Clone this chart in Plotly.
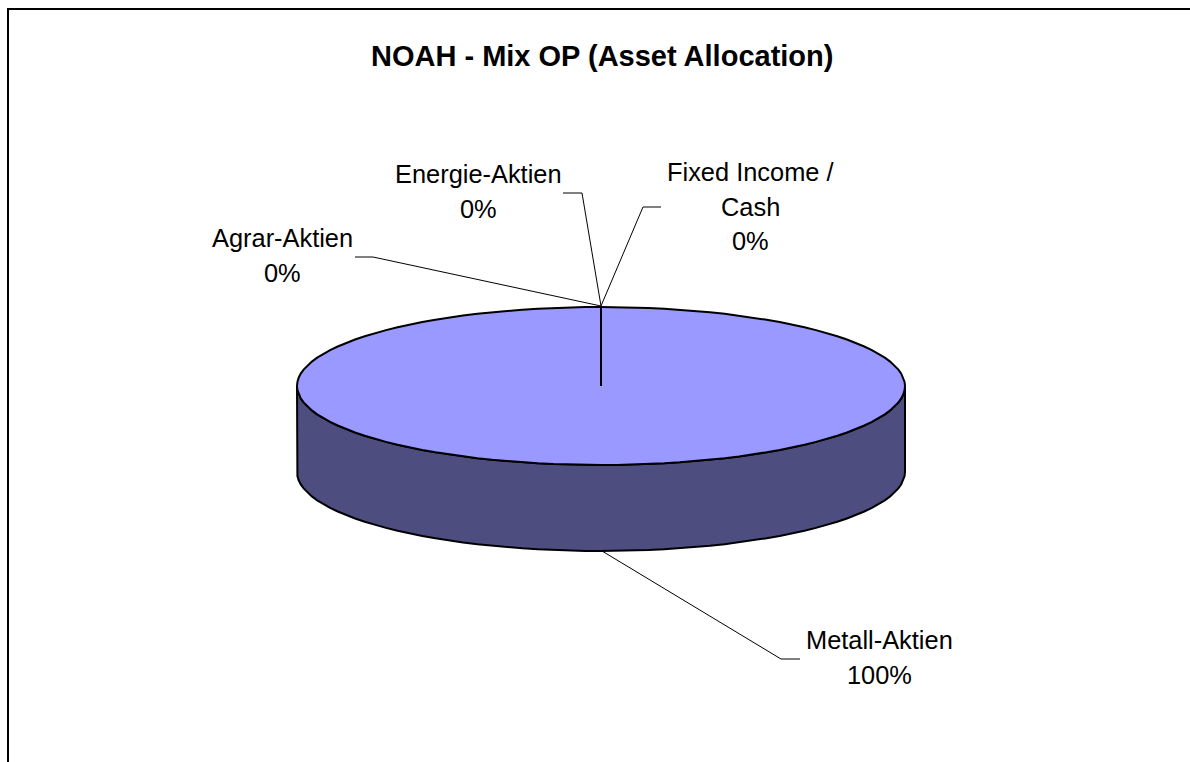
import numpy as np
import plotly.graph_objects as go

categories = ["Metall-Aktien", "Agrar-Aktien", "Energie-Aktien", "Fixed Income /<br>Cash"]
shares = [100, 0, 0, 0]
title_text = "NOAH - Mix OP (Asset Allocation)"

W, H = 1190, 762
CX, CY, RX, RY, DEPTH = 601, 386, 304, 79, 86
TOP = "#9999FF"
SIDE = "#4D4D80"
FONT = "Liberation Sans, Arial, sans-serif"

# ellipse sampled coarsely like the source's rasterised outline
t = np.radians(np.arange(0, 360.01, 3))
ex, ey = CX + RX * np.sin(t), CY - RY * np.cos(t)

front = np.radians(np.arange(90, 270.01, 3))
fx, fy = CX + RX * np.sin(front), CY - RY * np.cos(front)
side_x = np.concatenate([fx, fx[::-1], fx[:1]])
side_y = np.concatenate([fy, fy[::-1] + DEPTH, fy[:1]])

fig = go.Figure()
line = dict(color="black", width=2)
fig.add_trace(go.Scatter(x=side_x, y=side_y, mode="lines", fill="toself",
                         fillcolor=SIDE, line=line, hoverinfo="skip"))
fig.add_trace(go.Scatter(x=ex, y=ey, mode="lines", fill="toself",
                         fillcolor=TOP, line=line, hoverinfo="skip"))

# slice boundaries from the cumulative shares, clockwise from the top
cum = np.cumsum([0] + shares) / sum(shares) * 2 * np.pi
for a in sorted(set(np.round(cum % (2 * np.pi), 6))):
    fig.add_trace(go.Scatter(x=[CX, CX + RX * np.sin(a)], y=[CY, CY - RY * np.cos(a)],
                             mode="lines", line=line, hoverinfo="skip"))

leaders = [
    ([602, 781, 800], [551, 659, 659]),
    ([601, 373, 355], [306, 257, 257]),
    ([601, 582, 563], [306, 193, 193]),
    ([601, 643, 661], [306, 207, 207]),
]
for lx, ly in leaders:
    fig.add_trace(go.Scatter(x=lx, y=ly, mode="lines",
                             line=dict(color="black", width=1), hoverinfo="skip"))

label_pos = [(879, 640), (282, 238), (478, 174), (750, 172)]
for name, share, (x, y) in zip(categories, shares, label_pos):
    lines = name.split("<br>") + [f"{share}%"]
    for i, txt in enumerate(lines):
        fig.add_annotation(x=x, y=y + i * 34.5, text=txt, showarrow=False,
                           xanchor="center", yanchor="middle",
                           font=dict(family=FONT, size=25.4, color="black"))

fig.add_annotation(x=602, y=56, text=f"<b>{title_text}</b>", showarrow=False,
                   xanchor="center", yanchor="middle",
                   font=dict(family=FONT, size=29, color="black"))

# chart-area frame, running off the crop at the right and bottom
fig.add_trace(go.Scatter(x=[8, 8, 1190], y=[762, 9, 9], mode="lines",
                         line=dict(color="black", width=2), hoverinfo="skip"))

fig.update_layout(
    width=W, height=H, margin=dict(l=0, r=0, t=0, b=0), showlegend=False,
    paper_bgcolor="white", plot_bgcolor="white",
    xaxis=dict(range=[0, W], visible=False, fixedrange=True),
    yaxis=dict(range=[H, 0], visible=False, fixedrange=True),
)
fig.write_html("out.html", config={"displayModeBar": False},
               post_script="document.body.style.margin='0';")
